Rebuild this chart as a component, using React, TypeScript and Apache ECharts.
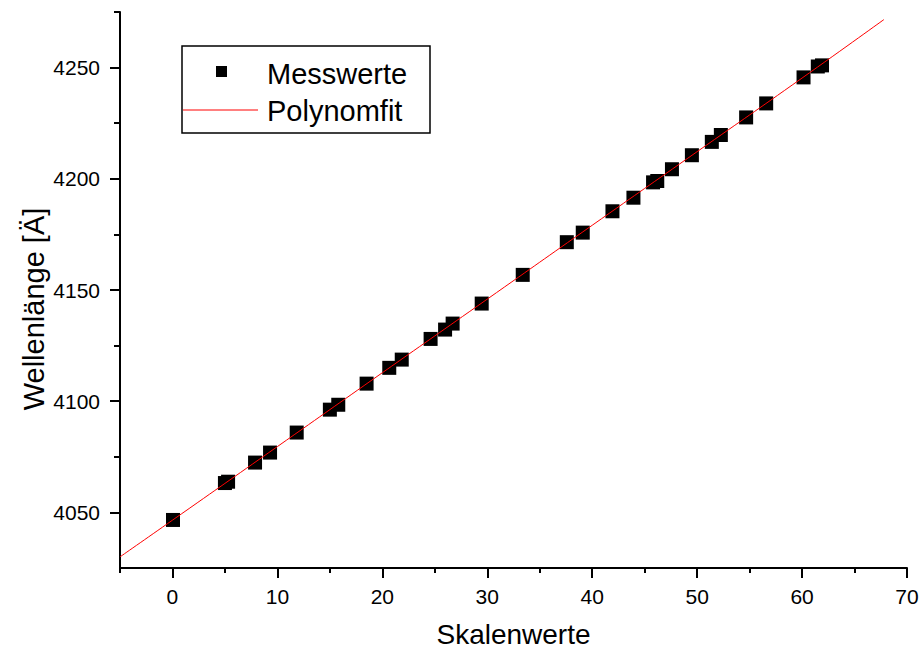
import React, { useEffect, useRef } from "react";
import * as echarts from "echarts";

const messX = [0.05, 5.0, 5.3, 7.87, 9.3, 11.84, 15.0, 15.8, 18.5, 20.66, 21.85, 24.6, 25.98, 26.7, 29.47, 33.38, 37.58, 39.1, 41.93, 43.93, 45.8, 46.2, 47.6, 49.5, 51.4, 52.26, 54.67, 56.58, 60.14, 61.5, 61.9];
const messY = [4046.6, 4063.2, 4063.8, 4072.4, 4076.9, 4085.9, 4096.2, 4098.4, 4107.9, 4115.0, 4118.7, 4128.0, 4132.2, 4134.9, 4143.9, 4156.8, 4171.5, 4175.8, 4185.4, 4191.5, 4198.4, 4199.0, 4204.3, 4210.6, 4216.6, 4219.7, 4227.6, 4233.9, 4245.6, 4250.5, 4251.0];

const fitX = [-5, 0, 10, 20, 30, 40, 50, 60, 67.8];
const fitY = [4030, 4046.5, 4079.6, 4112.8, 4145.9, 4179.1, 4212.2, 4245.3, 4271.6];

const xMajorTicks = [0, 10, 20, 30, 40, 50, 60, 70];
const xMinorTicks = [-5, 5, 15, 25, 35, 45, 55, 65];
const yMajorTicks = [4050, 4100, 4150, 4200, 4250];
const yMinorTicks = [4075, 4125, 4175, 4225, 4275];

const FONT = "'Liberation Sans', Arial, sans-serif";

export default function App() {
  const ref = useRef<HTMLDivElement>(null);
  useEffect(() => {
    if (!ref.current) return;
    const chart = echarts.init(ref.current, null, { renderer: "svg" });
    const axisLineStyle = { color: "#000", width: 2 };
    chart.setOption({
      animation: false,
      backgroundColor: "#fff",
      grid: { left: 120, right: 14, top: 12, bottom: 80, containLabel: false, outerBoundsMode: "none" },
      xAxis: [
        {
          type: "value",
          min: -5,
          max: 70,
          name: "Skalenwerte",
          nameLocation: "middle",
          nameGap: 52,
          nameTextStyle: { fontFamily: FONT, fontSize: 28, color: "#000" },
          axisLine: { show: true, onZero: false, lineStyle: axisLineStyle },
          axisTick: { show: true, length: 10, lineStyle: axisLineStyle, customValues: xMajorTicks },
          axisLabel: { show: true, customValues: xMajorTicks, margin: 18, fontFamily: FONT, fontSize: 21, color: "#000", formatter: (v: number) => String(v) },
          splitLine: { show: false },
        },
        {
          type: "value",
          min: -5,
          max: 70,
          position: "bottom",
          axisLine: { show: false, onZero: false },
          axisTick: { show: true, length: 5, lineStyle: axisLineStyle, customValues: xMinorTicks },
          axisLabel: { show: false },
          splitLine: { show: false },
        },
      ],
      yAxis: [
        {
          type: "value",
          min: 4025,
          max: 4275,
          axisLine: { show: true, onZero: false, lineStyle: axisLineStyle },
          axisTick: { show: true, length: 10, lineStyle: axisLineStyle, customValues: yMajorTicks },
          axisLabel: { show: true, customValues: yMajorTicks, margin: 20, fontFamily: FONT, fontSize: 21, color: "#000", formatter: (v: number) => String(v) },
          splitLine: { show: false },
        },
        {
          type: "value",
          min: 4025,
          max: 4275,
          position: "left",
          axisLine: { show: false, onZero: false },
          axisTick: { show: true, length: 6, lineStyle: axisLineStyle, customValues: yMinorTicks },
          axisLabel: { show: false },
          splitLine: { show: false },
        },
      ],
      series: [
        {
          name: "Polynomfit",
          type: "line",
          xAxisIndex: 0,
          yAxisIndex: 0,
          data: fitX.map((x, i) => [x, fitY[i]]),
          showSymbol: false,
          symbol: "none",
          smooth: true,
          lineStyle: { color: "#ff0000", width: 1 },
          z: 3,
        },
        {
          name: "Messwerte",
          type: "scatter",
          xAxisIndex: 0,
          yAxisIndex: 0,
          data: messX.map((x, i) => [x, messY[i]]),
          symbol: "rect",
          symbolSize: 14,
          itemStyle: { color: "#000", opacity: 1 },
          z: 2,
        },
      ],
      graphic: [
        {
          type: "text",
          x: 34,
          y: 309,
          rotation: Math.PI / 2,
          style: { text: "Wellenlänge [Ä]", fontFamily: FONT, fontSize: 29, fill: "#000", verticalAlign: "middle", align: "center" },
          z: 11,
        },
        {
          type: "rect",
          shape: { x: 182, y: 46, width: 248, height: 87 },
          style: { fill: "#fff", stroke: "#000", lineWidth: 1.5 },
          z: 10,
        },
        {
          type: "rect",
          shape: { x: 216, y: 66, width: 11, height: 11 },
          style: { fill: "#000" },
          z: 11,
        },
        {
          type: "text",
          x: 267,
          y: 74,
          style: { text: "Messwerte", fontFamily: FONT, fontSize: 29, fill: "#000", verticalAlign: "middle", align: "left" },
          z: 11,
        },
        {
          type: "line",
          shape: { x1: 183, y1: 110, x2: 258, y2: 110 },
          style: { stroke: "#ff0000", lineWidth: 1 },
          z: 11,
        },
        {
          type: "text",
          x: 267,
          y: 111,
          style: { text: "Polynomfit", fontFamily: FONT, fontSize: 29, fill: "#000", verticalAlign: "middle", align: "left" },
          z: 11,
        },
      ],
    });
    return () => chart.dispose();
  }, []);
  return <div ref={ref} style={{ position: "absolute", left: 0, top: 0, width: 921, height: 648 }} />;
}
